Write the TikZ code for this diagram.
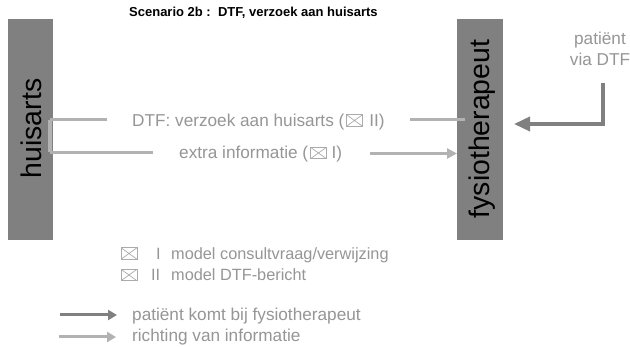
\documentclass[tikz,border=0pt]{standalone}
\usepackage{fontspec}
\setmainfont{Liberation Sans}
\usetikzlibrary{arrows.meta}
\definecolor{boxg}{HTML}{808080}
\definecolor{txtg}{HTML}{969696}
\definecolor{lineg}{HTML}{B2B2B2}
\definecolor{envg}{HTML}{ABABAB}
\tikzset{
  actor/.style={fill=boxg,draw=none,minimum width=45.3pt,anchor=north west,inner sep=0pt},
  actorlabel/.style={rotate=90,anchor=base,text=black,font=\fontsize{28.4}{30}\selectfont,inner sep=0pt},
  lbl/.style={text=txtg,font=\fontsize{17.2}{21}\selectfont,inner sep=0pt,anchor=base west},
  leg/.style={lbl,font=\fontsize{16.3}{20}\selectfont},
  info/.style={draw=lineg,line width=3pt},
  pat/.style={draw=boxg,line width=3pt},
  envbox/.style={draw=envg,line width=0.8pt,minimum width=16pt,minimum height=11.5pt,inner sep=0pt,anchor=center,
    path picture={\draw[envg,line width=0.7pt]
      (path picture bounding box.north west) -- (path picture bounding box.south east)
      (path picture bounding box.north east) -- (path picture bounding box.south west);}},
}
\begin{document}
\begin{tikzpicture}[x=1pt,y=-1pt]
\useasboundingbox (0,0) rectangle (630,347);
\fill[white] (0,0) rectangle (630,347);
\node[anchor=base west,inner sep=0pt,font=\fontsize{13}{14}\selectfont\bfseries] (title) at (129,17) {Scenario 2b :\ \ DTF, verzoek aan huisarts};
\node[actor,minimum height=221pt] (ha) at (7.5,19) {};
\node[actorlabel] (hat) at (41.5,128.5) {huisarts};
\node[actor,minimum height=221pt] (fy) at (457.2,19) {};
\node[actorlabel] (fyt) at (489,129) {fysiotherapeut};
\node[text=txtg,font=\fontsize{17.2}{21.5}\selectfont,align=center,inner sep=0pt] (pv) at (600,49) {patiënt\\via DTF};
\node[lbl] (m1) at (132,127) {DTF: verzoek aan huisarts (\hspace{25pt}II)};
\node[lbl] (m2) at (179,159) {extra informatie (\hspace{23.5pt}I)};
\node[envbox] (em1) at (354.5,120.5) {};
\node[envbox] (em2) at (318.5,153) {};
\coordinate (c0) at (50,120);
\coordinate (c1) at (50,152.5);
\coordinate (a1) at (107,120);
\coordinate (a2) at (153,152.5);
\coordinate (b1) at (410,120);
\coordinate (b2) at (465,120);
\coordinate (d1) at (370,153.5);
\coordinate (d2) at (457,153.5);
\coordinate (p1) at (603,83);
\coordinate (p2) at (603,124);
\coordinate (p3) at (514,124);
\draw[info,line width=4pt] (c0) -- (c1);
\draw[info] (a1) -- (c0);
\draw[info] (c1) -- (a2);
\draw[info] (b1) -- (b2);
\draw[info,-{Triangle[length=10pt,width=10pt]}] (d1) -- (d2);
\draw[pat,line width=3.5pt,-{Triangle[length=16pt,width=14pt]}] (p1) -- (p2) -- (p3);
\node[envbox] (e1) at (129,253.5) {};
\node[leg] (i1) at (156,260) {I};
\node[leg] (l1) at (171,260) {model consultvraag/verwijzing};
\node[envbox] (e2) at (129,275) {};
\node[leg] (i2) at (151,281) {II};
\node[leg] (l2) at (171,281) {model DTF-bericht};
\coordinate (k1) at (60,315);
\coordinate (k2) at (117,315);
\coordinate (k3) at (59,337);
\coordinate (k4) at (116,337);
\draw[pat,-{Triangle[length=9pt,width=10pt]}] (k1) -- (k2);
\draw[info,-{Triangle[length=9pt,width=10pt]}] (k3) -- (k4);
\node[lbl] (t1) at (132,321) {patiënt komt bij fysiotherapeut};
\node[lbl] (t2) at (132,342) {richting van informatie};
\end{tikzpicture}
\end{document}
